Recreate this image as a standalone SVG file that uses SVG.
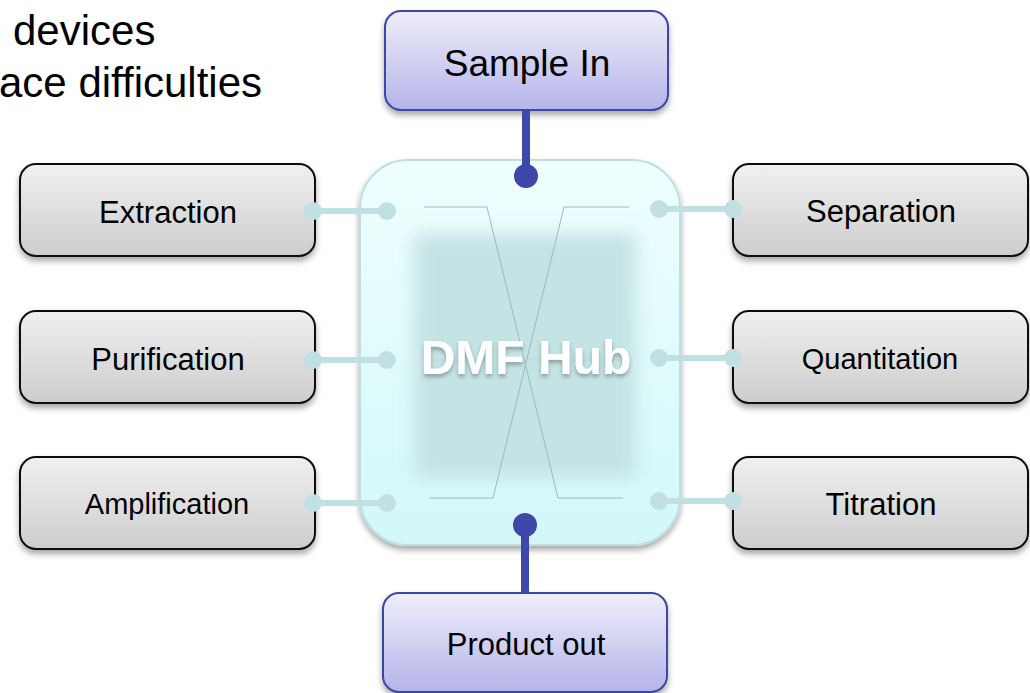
<svg xmlns="http://www.w3.org/2000/svg" width="1030" height="693" viewBox="0 0 1030 693">
<style>
.lbl{font-family:"Liberation Sans",Arial,sans-serif;fill:#000;text-anchor:middle}
.gbox{fill:url(#gGray);stroke:#111;stroke-width:2}
.bbox{fill:url(#gBlue);stroke:#3c46a6;stroke-width:2}
.lc{stroke:#c0e0e3;stroke-width:6;fill:none}
.ld{fill:#c0e0e3}
.bc{stroke:#3f48a8;stroke-width:8;fill:none}
.bd{fill:#3f48a8}
.xl{stroke:#9fb8ba;stroke-width:1;fill:none}
</style>
<defs>
<linearGradient id="gGray" x1="0" y1="0" x2="0" y2="1"><stop offset="0" stop-color="#f0f0f0"/><stop offset="1" stop-color="#cdcdcd"/></linearGradient>
<linearGradient id="gBlue" x1="0" y1="0" x2="0" y2="1"><stop offset="0" stop-color="#efeef9"/><stop offset="1" stop-color="#b4b4ea"/></linearGradient>
<linearGradient id="gHub" x1="0" y1="0" x2="0" y2="1"><stop offset="0" stop-color="#effefe"/><stop offset="1" stop-color="#d2f8fa"/></linearGradient>
<filter id="sh" x="-10%" y="-10%" width="120%" height="130%"><feGaussianBlur in="SourceAlpha" stdDeviation="3"/><feOffset dy="4"/><feComponentTransfer><feFuncA type="linear" slope="0.35"/></feComponentTransfer><feMerge><feMergeNode/><feMergeNode in="SourceGraphic"/></feMerge></filter>
<filter id="blur" x="-20%" y="-20%" width="140%" height="140%"><feGaussianBlur stdDeviation="9"/></filter>
<filter id="tsh" x="-10%" y="-20%" width="120%" height="150%"><feGaussianBlur in="SourceAlpha" stdDeviation="2"/><feOffset dy="3"/><feComponentTransfer><feFuncA type="linear" slope="0.3"/></feComponentTransfer><feMerge><feMergeNode/><feMergeNode in="SourceGraphic"/></feMerge></filter>
</defs>
<rect width="1030" height="693" fill="#fff"/>
<g id="caption">
<text class="lbl" style="text-anchor:start" x="13" y="45" font-size="42">devices</text>
<text class="lbl" style="text-anchor:start" x="-1" y="97" font-size="42">ace difficulties</text>
</g>
<g id="hub">
<rect x="360" y="160" width="320" height="385" rx="48" fill="url(#gHub)" stroke="#bcdfe2" stroke-width="2" filter="url(#sh)"/>
<rect x="414" y="234" width="222" height="244" fill="#c4e3e5" filter="url(#blur)"/>
<polyline class="xl" points="424,207 487,207 558,498 623,498"/>
<polyline class="xl" points="629,207 564,207 493,498 429,498"/>
<line x1="432" y1="360" x2="622" y2="360" stroke="#b5d3d5" stroke-width="1" opacity="0.6"/>
<text class="lbl" x="526" y="374" font-size="48" font-weight="bold" style="fill:#fff" filter="url(#tsh)">DMF Hub</text>
</g>
<g id="sample-in">
<rect class="bbox" x="385" y="11" width="283" height="99" rx="16" filter="url(#sh)"/>
<text class="lbl" x="527" y="76" font-size="37">Sample In</text>
</g>
<g id="product-out">
<rect class="bbox" x="383" y="593" width="284" height="99" rx="16" filter="url(#sh)"/>
<text class="lbl" x="526" y="655" font-size="31">Product out</text>
</g>
<g id="extraction">
<rect class="gbox" x="20" y="164" width="295" height="92" rx="16" filter="url(#sh)"/>
<text class="lbl" x="168" y="223" font-size="31">Extraction</text>
</g>
<g id="purification">
<rect class="gbox" x="20" y="311" width="295" height="92" rx="16" filter="url(#sh)"/>
<text class="lbl" x="168" y="370" font-size="31">Purification</text>
</g>
<g id="amplification">
<rect class="gbox" x="20" y="457" width="295" height="92" rx="16" filter="url(#sh)"/>
<text class="lbl" x="167" y="514" font-size="29">Amplification</text>
</g>
<g id="separation">
<rect class="gbox" x="733" y="164" width="295" height="92" rx="16" filter="url(#sh)"/>
<text class="lbl" x="881" y="222" font-size="31">Separation</text>
</g>
<g id="quantitation">
<rect class="gbox" x="733" y="311" width="295" height="92" rx="16" filter="url(#sh)"/>
<text class="lbl" x="880" y="369" font-size="29">Quantitation</text>
</g>
<g id="titration">
<rect class="gbox" x="733" y="457" width="295" height="92" rx="16" filter="url(#sh)"/>
<text class="lbl" x="881" y="515" font-size="31">Titration</text>
</g>
<g id="connectors">
<line class="lc" x1="313" y1="211" x2="387" y2="211"/><circle class="ld" cx="313" cy="211" r="9"/><circle class="ld" cx="387" cy="211" r="9"/>
<line class="lc" x1="313" y1="360" x2="387" y2="360"/><circle class="ld" cx="313" cy="360" r="9"/><circle class="ld" cx="387" cy="360" r="9"/>
<line class="lc" x1="313" y1="503" x2="387" y2="503"/><circle class="ld" cx="313" cy="503" r="9"/><circle class="ld" cx="387" cy="503" r="9"/>
<line class="lc" x1="659" y1="209" x2="733" y2="209"/><circle class="ld" cx="659" cy="209" r="9"/><circle class="ld" cx="733" cy="209" r="9"/>
<line class="lc" x1="659" y1="358" x2="733" y2="358"/><circle class="ld" cx="659" cy="358" r="9"/><circle class="ld" cx="733" cy="358" r="9"/>
<line class="lc" x1="659" y1="501" x2="733" y2="501"/><circle class="ld" cx="659" cy="501" r="9"/><circle class="ld" cx="733" cy="501" r="9"/>
<line class="bc" x1="526" y1="111" x2="526" y2="176"/><circle class="bd" cx="526" cy="176" r="12"/>
<line class="bc" x1="525" y1="525" x2="525" y2="592"/><circle class="bd" cx="525" cy="525" r="12"/>
</g>
</svg>
